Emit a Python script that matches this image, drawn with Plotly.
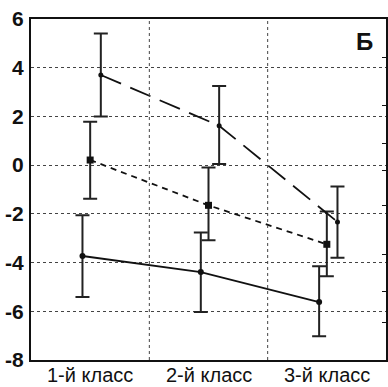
import plotly.graph_objects as go

categories = ["1-й класс", "2-й класс", "3-й класс"]

# Series A (long dash)
a_vals = [3.7, 1.62, -2.33]
a_hi = [5.4, 3.25, -0.88]
a_lo = [2.0, 0.05, -3.8]

# Series B (short dash, square markers)
b_vals = [0.21, -1.65, -3.25]
b_hi = [1.78, -0.1, -1.9]
b_lo = [-1.38, -3.08, -4.56]

# Series C (solid)
c_vals = [-3.73, -4.39, -5.62]
c_hi = [-2.06, -2.77, -4.15]
c_lo = [-5.41, -6.03, -7.03]

y_ticks = [-8, -6, -4, -2, 0, 2, 4, 6]
right_ticks = [4.44, 2.43, 0.87, -0.24, -1.64, -3.65, -5.17, -6.48]

def series(vals, hi, lo, offset, dash, symbol, msize):
    x = [i + offset for i in range(len(vals))]
    return go.Scatter(
        x=x, y=vals, mode="lines+markers",
        line=dict(color="#111111", width=1.8, dash=dash),
        marker=dict(symbol=symbol, size=msize, color="#111111"),
        error_y=dict(type="data", symmetric=False,
                     array=[h - v for h, v in zip(hi, vals)],
                     arrayminus=[v - l for v, l in zip(vals, lo)],
                     color="#222222", thickness=2, width=7),
        showlegend=False, hoverinfo="skip",
    )

fig = go.Figure()
fig.add_trace(series(c_vals, c_hi, c_lo, -0.065, "solid", "circle", 6))
fig.add_trace(series(b_vals, b_hi, b_lo, 0.0, "6px,5px", "square", 7))
fig.add_trace(series(a_vals, a_hi, a_lo, 0.09, "22px,10px", "circle", 5))

# invisible trace for right-side axis ticks
fig.add_trace(go.Scatter(x=[0], y=[0], yaxis="y2", mode="markers",
                         marker=dict(opacity=0), showlegend=False, hoverinfo="skip"))

cat_annotations = [
    dict(text=c, xref="x", yref="paper", x=i, y=-27 / 341,
         xanchor="center", yanchor="bottom", showarrow=False, borderpad=0,
         font=dict(size=20, color="#111111"))
    for i, c in enumerate(categories)
]

fig.update_layout(
    width=388, height=387,
    margin=dict(l=31, r=2, t=19, b=27),
    paper_bgcolor="white", plot_bgcolor="white",
    font=dict(family="Liberation Sans, Arial, sans-serif", color="#111111"),
    xaxis=dict(
        range=[-0.5, 2.5], tickvals=[0, 1, 2], showticklabels=False,
        showgrid=False, automargin=False,
        showline=True, linecolor="#111111", linewidth=2, mirror=True,
        ticks="", zeroline=False,
    ),
    yaxis=dict(
        range=[-8, 6], tickvals=y_ticks, automargin=False,
        ticktext=[f"<b>{v}</b>" for v in y_ticks],
        tickfont=dict(size=21, family="Liberation Sans, Arial, sans-serif"),
        showgrid=True, gridcolor="#444444", griddash="dot", gridwidth=1,
        showline=True, linecolor="#111111", linewidth=2, mirror=True,
        ticks="", zeroline=False, ticklabelstandoff=1,
    ),
    yaxis2=dict(
        range=[-8, 6], overlaying="y", side="right", tickvals=right_ticks,
        showticklabels=False, ticks="inside", ticklen=4, tickcolor="#111111",
        showgrid=False, zeroline=False, showline=False, automargin=False,
    ),
    shapes=[
        dict(type="line", xref="x", yref="paper", x0=0.5, x1=0.5, y0=0, y1=1,
             line=dict(color="#444444", width=1, dash="dot")),
        dict(type="line", xref="x", yref="paper", x0=1.5, x1=1.5, y0=0, y1=1,
             line=dict(color="#444444", width=1, dash="dot")),
    ],
    annotations=[
        dict(text="<b>Б</b>", xref="paper", yref="paper", x=0.94, y=0.935,
             xanchor="center", yanchor="middle", showarrow=False,
             font=dict(size=24, color="#111111")),
    ] + cat_annotations,
)

fig.write_html("out.html", config={"displayModeBar": False},
               post_script="document.body.style.margin='0';document.body.style.overflow='hidden';")
